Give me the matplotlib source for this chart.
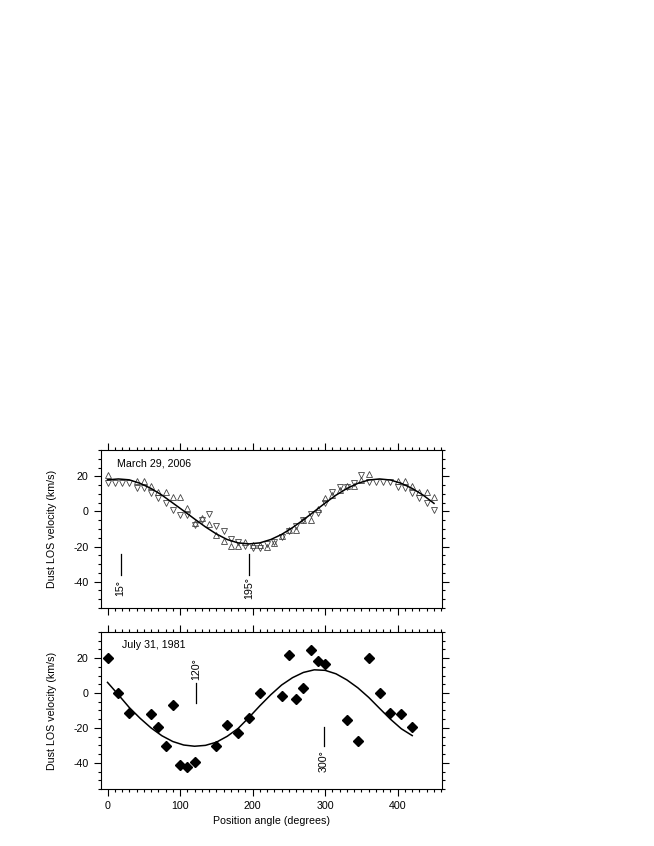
import numpy as np
import matplotlib.pyplot as plt

plt.rcParams['font.family'] = ['Liberation Sans', 'DejaVu Sans']
plt.rcParams['font.size'] = 7.7
plt.rcParams['axes.unicode_minus'] = False

# --- March 29, 2006 (top panel) ---
up_deg = [0, 40, 50, 60, 70, 80, 90, 100, 110, 120, 130, 140, 150, 160, 170, 180,
          190, 200, 210, 220, 230, 240, 250, 260, 270, 280, 290, 300, 310, 320,
          330, 340, 350, 360, 400, 410, 420, 430, 440, 450]
up_vel = [20.8, 17.5, 17.5, 14.5, 11.2, 11.2, 8.0, 8.0, 1.7, -6.5, -4.0, -6.9,
          -13.6, -16.8, -19.9, -19.9, -17.4, -19.0, -19.0, -20.2, -18.0, -14.0,
          -10.5, -10.7, -4.6, -5.0, 1.3, 7.5, 9.5, 12.0, 14.5, 14.5, 18.0, 21.1,
          17.4, 17.4, 14.7, 11.2, 11.2, 8.0]

down_deg = list(range(0, 451, 10))
down_vel = [16.4, 16.4, 16.4, 16.4, 13.2, 13.2, 10.3, 7.5, 4.6, 1.1, -2.1, -2.1,
            -8.0, -5.0, -1.7, -8.2, -11.1, -15.5, -17.4, -19.9, -20.6, -20.6,
            -18.5, -17.4, -14.5, -11.1, -8.5, -4.6, -1.7, -1.0, 5.0, 10.8, 13.7,
            14.0, 16.4, 20.5, 16.6, 16.6, 16.6, 16.6, 13.7, 13.2, 10.7, 7.5, 4.6, 1.1]

fit06_deg = list(range(0, 451, 15))
fit06_vel = [18.0, 18.5, 18.0, 16.0, 13.1, 9.3, 4.8, 0.3, -4.3, -8.8, -12.8, -16.0,
             -17.9, -18.5, -17.9, -16.0, -13.1, -9.2, -4.8, 0.0, 4.8, 9.3, 13.1,
             16.0, 17.9, 18.5, 17.9, 16.0, 13.1, 9.3, 4.6]

# --- July 31, 1981 (bottom panel) ---
d81_deg = [0, 15, 30, 60, 70, 80, 90, 100, 110, 120, 150, 165, 180, 195, 210,
           240, 250, 260, 270, 280, 290, 300, 330, 345, 360, 375, 390, 405, 420]
d81_vel = [20, 0, -11.4, -11.8, -19.6, -30.5, -6.7, -41.5, -42.5, -39.3, -30.5,
           -18.1, -23.1, -14.5, 0.2, -1.5, 22, -3.3, 3, 24.4, 18.5, 16.7, -15.6,
           -27.4, 20, 0, -11.4, -11.8, -19.6]

fit81_deg = list(range(0, 421, 15))
fit81_vel = [6.1, -1.0, -8.3, -14.5, -20.0, -24.5, -27.8, -29.8, -30.5, -30.0,
             -28.2, -24.8, -20.3, -14.0, -7.3, -1.0, 4.6, 8.8, 11.8, 13.3, 13.0,
             11.0, 7.5, 3.0, -2.5, -8.8, -15.0, -20.5, -24.4]

fig = plt.figure(figsize=(6.54, 8.46), dpi=100)
ax1 = fig.add_axes([0.1544, 0.2813, 0.5214, 0.1868])
ax2 = fig.add_axes([0.1544, 0.0674, 0.5214, 0.1856])

for ax in (ax1, ax2):
    ax.set_xlim(-9, 461)
    ax.set_ylim(-55, 35)
    ax.set_xticks([0, 100, 200, 300, 400])
    ax.set_xticks(np.arange(0, 461, 10), minor=True)
    ax.set_yticks([-40, -20, 0, 20])
    ax.set_yticks(np.arange(-55, 36, 5), minor=True)
    ax.tick_params(which='both', direction='out', top=True, right=True, width=0.8)
    ax.tick_params(which='major', length=5, pad=4)
    ax.tick_params(which='minor', length=2.5)
    for s in ax.spines.values():
        s.set_linewidth(0.8)
    ax.set_ylabel('Dust LOS velocity (km/s)')
    ax.yaxis.set_label_coords(-0.13, 0.5)

ax1.tick_params(labelbottom=False)

# top panel
ax1.plot(up_deg, up_vel, linestyle='none', marker='^', ms=4.6, mfc='none',
         mec='#444444', mew=0.6)
ax1.plot(down_deg, down_vel, linestyle='none', marker='v', ms=4.6, mfc='none',
         mec='#444444', mew=0.6)
ax1.plot(fit06_deg, fit06_vel, color='black', lw=1.1)
ax1.text(0.048, 0.915, 'March 29, 2006', transform=ax1.transAxes, va='center')

ax1.plot([18, 18], [-24.5, -36], color='black', lw=0.9)
ax1.text(18, -43.5, '15°', rotation=90, ha='center', va='center')
ax1.plot([195.5, 195.5], [-24.5, -36], color='black', lw=0.9)
ax1.text(195.5, -43.5, '195°', rotation=90, ha='center', va='center')

# bottom panel
ax2.plot(d81_deg, d81_vel, linestyle='none', marker='D', ms=4.8, color='black')
ax2.plot(fit81_deg, fit81_vel, color='black', lw=1.1)
ax2.text(0.061, 0.917, 'July 31, 1981', transform=ax2.transAxes, va='center')

ax2.plot([122, 122], [5.7, -5.7], color='black', lw=0.9)
ax2.text(122, 13.6, '120°', rotation=90, ha='center', va='center')
ax2.plot([298, 298], [-19.4, -30.5], color='black', lw=0.9)
ax2.text(298, -38.8, '300°', rotation=90, ha='center', va='center')

ax2.set_xlabel('Position angle (degrees)')
ax2.xaxis.set_label_coords(0.5, -0.17)

fig.savefig('out.png', dpi=100)
